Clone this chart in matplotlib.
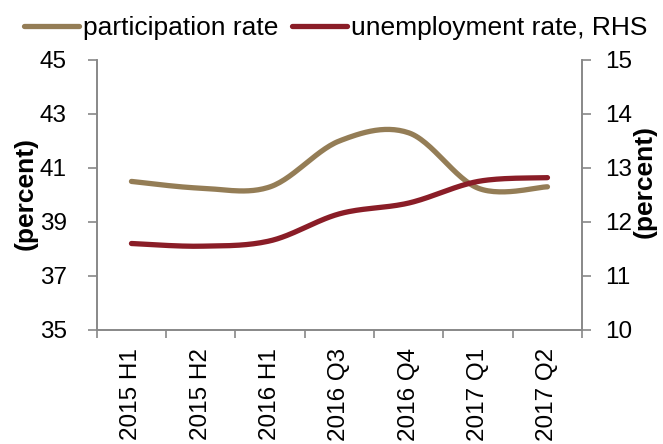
import numpy as np
import matplotlib.pyplot as plt

plt.rcParams['font.family'] = ['Liberation Sans', 'DejaVu Sans']

periods = ['2015 H1', '2015 H2', '2016 H1', '2016 Q3', '2016 Q4', '2017 Q1', '2017 Q2']
participation = [40.5, 40.25, 40.3, 42.0, 42.3, 40.25, 40.3]
unemployment = [11.6, 11.55, 11.65, 12.15, 12.35, 12.75, 12.82]


def smooth(x, y, n=30):
    # Catmull-Rom style smoothing through the data points
    x = np.asarray(x, float)
    y = np.asarray(y, float)
    px = np.concatenate([[x[0]], x, [x[-1]]])
    py = np.concatenate([[y[0]], y, [y[-1]]])
    xs, ys = [], []
    t = np.linspace(0, 1, n)
    for i in range(1, len(px) - 2):
        p0 = np.array([px[i], py[i]])
        p3 = np.array([px[i + 1], py[i + 1]])
        p1 = p0 + (np.array([px[i + 1], py[i + 1]]) - np.array([px[i - 1], py[i - 1]])) / 6
        p2 = p3 - (np.array([px[i + 2], py[i + 2]]) - np.array([px[i], py[i]])) / 6
        b = ((1 - t) ** 3)[:, None] * p0 + (3 * (1 - t) ** 2 * t)[:, None] * p1 \
            + (3 * (1 - t) * t ** 2)[:, None] * p2 + (t ** 3)[:, None] * p3
        xs.extend(b[:, 0])
        ys.extend(b[:, 1])
    return np.array(xs), np.array(ys)


fig = plt.figure(figsize=(6.63, 4.44), dpi=100)
ax = fig.add_axes([0.146, 0.257, 0.732, 0.608])
ax2 = ax.twinx()

x = np.arange(len(periods))
sx, sy = smooth(x, participation)
l1, = ax.plot(sx, sy, color='#947D56', lw=3.8, solid_capstyle='round', label='participation rate')
sx, sy = smooth(x, unemployment)
l2, = ax2.plot(sx, sy, color='#8A1D27', lw=3.8, solid_capstyle='round', label='unemployment rate, RHS')

ax.set_xlim(-0.5, len(periods) - 0.5)
ax.set_ylim(35, 45)
ax.set_yticks(np.arange(35, 46, 2))
ax2.set_ylim(10, 15)
ax2.set_yticks(np.arange(10, 16, 1))

fs = 17.5
ax.set_xticks(x)
ax.set_xticklabels(periods, rotation=90, fontsize=fs)
ax.set_xticks(np.arange(-0.5, len(periods)), minor=True)
ax.tick_params(axis='x', which='major', length=0, pad=13)
ax.tick_params(axis='x', which='minor', length=6, color='#888888', width=1.2)

ax.tick_params(axis='y', labelsize=fs, length=6.5, color='#888888', width=1.2, pad=15)
ax2.tick_params(axis='y', labelsize=fs, length=6.5, color='#888888', width=1.2, pad=10)

for a in (ax, ax2):
    a.spines['top'].set_visible(False)
    for s in ('left', 'right', 'bottom'):
        a.spines[s].set_color('#888888')
        a.spines[s].set_linewidth(1.2)

# axis titles sit over the tick labels, as in the source layout
fig.text(26 / 663, 1 - 193 / 444, '(percent)', fontsize=19, fontweight='bold',
         rotation=90, ha='center', va='center')
fig.text(645 / 663, 1 - 181 / 444, '(percent)', fontsize=19, fontweight='bold',
         rotation=90, ha='center', va='center')

fig.legend(handles=[l1, l2], loc='center', bbox_to_anchor=(0.506, 0.937), ncol=2,
           frameon=False, fontsize=19, handlelength=2.1, handletextpad=0.15,
           columnspacing=0.5, borderpad=0, borderaxespad=0)

fig.savefig('out.png', dpi=100)
